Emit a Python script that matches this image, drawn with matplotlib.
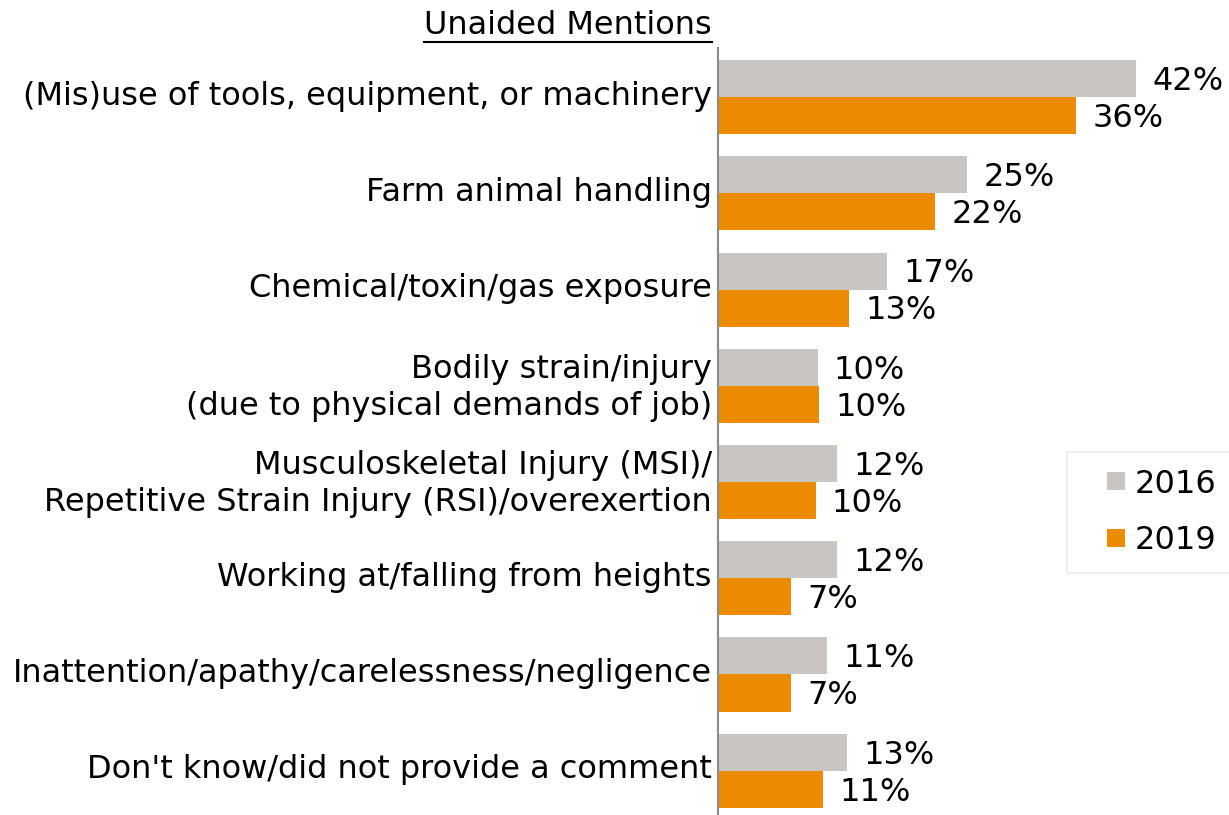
import matplotlib
matplotlib.use("Agg")
import matplotlib.pyplot as plt
from matplotlib.lines import Line2D
import numpy as np

categories = [
    "(Mis)use of tools, equipment, or machinery",
    "Farm animal handling",
    "Chemical/toxin/gas exposure",
    "Bodily strain/injury\n(due to physical demands of job)",
    "Musculoskeletal Injury (MSI)/\nRepetitive Strain Injury (RSI)/overexertion",
    "Working at/falling from heights",
    "Inattention/apathy/carelessness/negligence",
    "Don't know/did not provide a comment",
]
values_2016 = [42, 25, 17, 10, 12, 12, 11, 13]
values_2019 = [36, 21.8, 13.2, 10.2, 9.8, 7.3, 7.3, 10.6]
series_names = ["2016", "2019"]
title = "Unaided Mentions"

C16 = "#C9C5C1"
C19 = "#EC8B00"
FS = 23

plt.rcParams['font.family'] = ['DejaVu Sans']
W, H = 1229, 815
fig = plt.figure(figsize=(W/100, H/100), dpi=100)
ax = fig.add_axes([718/W, 0, (W-718)/W, (815-48)/H])

y = np.arange(len(categories))
bh = 0.385
b1 = ax.barh(y - bh/2, values_2016, height=bh, color=C16, label=series_names[0])
b2 = ax.barh(y + bh/2, values_2019, height=bh, color=C19, label=series_names[1])

for yi, v in zip(y, values_2016):
    ax.text(v + 1.65, yi - bh/2 + 0.03, f"{round(v)}%", va="center", ha="left", fontsize=FS)
for yi, v in zip(y, values_2019):
    ax.text(v + 1.65, yi + bh/2 + 0.03, f"{round(v)}%", va="center", ha="left", fontsize=FS)

ax.set_xlim(0, (W-718)/9.95)
ax.set_ylim(7.46, -0.51)
ax.set_yticks(y - 0.045)
ax.set_yticklabels(categories, fontsize=FS)
for lab in ax.get_yticklabels():
    lab.set_linespacing(1.25)
ax.tick_params(axis='y', length=0, pad=4.5)
ax.set_xticks([])
for s in ["top", "right", "bottom"]:
    ax.spines[s].set_visible(False)
ax.spines["left"].set_color("#8c8c8c")
ax.spines["left"].set_linewidth(1.5)

handles = [Line2D([], [], ls="none", marker="s", markersize=13, color=c, markeredgewidth=0)
           for c in (C16, C19)]
leg = fig.legend(handles=handles, labels=series_names, loc="upper left",
                 bbox_to_anchor=(1067/W, 1-452/H), borderaxespad=0,
                 fontsize=FS, frameon=True, fancybox=False, edgecolor="#e6e6e6",
                 handlelength=2.0, handletextpad=-0.4,
                 labelspacing=0.8, borderpad=0.52)
leg.get_frame().set_linewidth(1.2)

t = fig.text(712/W, 1-25/H, title, ha="right", va="center", fontsize=FS)
fig.canvas.draw()
bb = t.get_window_extent()
ly = bb.y0 - 1
fig.add_artist(Line2D([bb.x0/W, bb.x1/W], [ly/H, ly/H], color="black", lw=1.5,
                      transform=fig.transFigure))

fig.savefig("out.png", dpi=100)
